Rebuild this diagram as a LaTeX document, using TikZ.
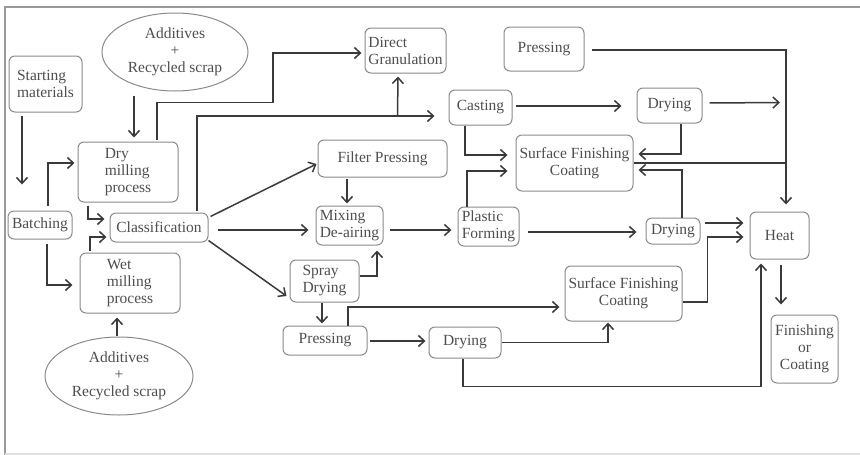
\documentclass[tikz,border=0pt]{standalone}
\usepackage{fontspec}
\setmainfont{Liberation Serif}
\usetikzlibrary{arrows.meta,shapes.geometric,calc}
\definecolor{boxgray}{HTML}{8A8A8A}
\definecolor{txtgray}{HTML}{4E4E4E}
\definecolor{linegray}{HTML}{3A3A3A}
\definecolor{framegray}{HTML}{9A9A9A}
\tikzset{
  lbl/.style={font=\fontsize{15.5}{17}\selectfont, text=txtgray, inner sep=0pt},
  stepbox/.style={lbl, draw=boxgray, line width=1pt, rounded corners=6pt},
  oval/.style={lbl, ellipse, draw=boxgray, line width=1pt},
  flow/.style={draw=linegray, line width=1.5pt, -{Straight Barb[length=6pt,width=11pt,line width=1.5pt]}},
  plain/.style={draw=linegray, line width=1.5pt},
}
\begin{document}
\begin{tikzpicture}[x=1pt,y=-1pt]
\useasboundingbox (0,0) rectangle (860,455);
% outer frame
\draw[framegray, line width=1.2pt] (5,455) -- (5,7) -- (860,7);
\draw[black!12, line width=2pt] (5,454) -- (860,454);

% process steps
\node[stepbox, align=left, minimum width=73, minimum height=56] (sm) at (45.5,84) {Starting\\materials};
\node[oval, align=center, minimum width=146, minimum height=78] (ell1) at (175,52) {Additives\\+\\Recycled scrap};
\node[stepbox, align=left, minimum width=100, minimum height=60] (dry) at (128,172) {Dry\\milling\\process};
\node[stepbox, minimum width=64, minimum height=28] (batch) at (40,225) {Batching};
\node[stepbox, minimum width=98, minimum height=29] (cls) at (159,227.5) {Classification};
\node[stepbox, align=left, minimum width=100, minimum height=60] (wet) at (130,283) {Wet\\milling\\process};
\node[oval, align=center, minimum width=148, minimum height=78] (ell2) at (119,376) {Additives\\+\\Recycled scrap};
\node[stepbox, align=left, minimum width=81, minimum height=45] (dg) at (405.5,50.5) {Direct\\Granulation};
\node[stepbox, minimum width=80, minimum height=44] (press1) at (544,49) {Pressing};
\node[stepbox, minimum width=63, minimum height=35] (cast) at (480.5,107.5) {Casting};
\node[stepbox, minimum width=65, minimum height=35] (dry1) at (669.5,105.5) {Drying};
\node[stepbox, align=center, minimum width=117, minimum height=56] (sf1) at (574.5,163) {Surface Finishing\\Coating};
\node[stepbox, minimum width=129, minimum height=37] (fp) at (382.5,158.5) {Filter Pressing};
\node[stepbox, align=left, minimum width=67, minimum height=39] (mix) at (349.5,225.5) {Mixing\\De-airing};
\node[stepbox, align=left, minimum width=61, minimum height=39] (pf) at (488.5,226.5) {Plastic\\Forming};
\node[stepbox, minimum width=54, minimum height=26] (dry2) at (673,231) {Drying};
\node[stepbox, minimum width=59, minimum height=47] (heat) at (779.5,235.5) {Heat};
\node[stepbox, align=left, minimum width=69, minimum height=42] (spray) at (324.5,281) {Spray\\Drying};
\node[stepbox, minimum width=84, minimum height=29] (press2) at (325,340.5) {Pressing};
\node[stepbox, minimum width=72, minimum height=31] (dry3) at (465,342.5) {Drying};
\node[stepbox, align=center, minimum width=117, minimum height=55] (sf2) at (623.5,293.5) {Surface Finishing\\Coating};
\node[stepbox, align=center, minimum width=67, minimum height=68] (fin) at (804.5,349) {Finishing\\or\\Coating};

% junction points on shared lines
\coordinate (jct) at ($(cast.west)+(-51,8.5)$);
\coordinate (busend) at ($(heat.north)+(6.5,-7)$);

% raw material preparation
\draw[flow] ($(sm.south)+(-23.5,3)$) -- ($(batch.north)+(-18,-26)$);
\draw[flow] ($(batch.north)+(8,-5)$) |- ($(dry.west)+(-3,-9)$);
\draw[flow] ($(batch.south)+(7,4)$) |- ($(wet.west)+(-7,2)$);
\draw[flow] ($(ell1.south)+(-41,4)$) -- ($(dry.north)+(6,-4)$);
\draw[flow] ($(ell2.north)+(-2,-1)$) -- ($(wet.south)+(-13,4)$);
\draw[flow] ($(dry.south)+(-40,3)$) |- ($(cls.west)+(-5,-8.5)$);
\draw[flow] ($(wet.north)+(-40,-2)$) |- ($(cls.west)+(-3,9.5)$);

% forming routes
\draw[flow] ($(dry.north)+(29,-2)$) -- ++(0,-37) -- ++(116,0) |- ($(dg.west)+(-3,2.5)$);
\draw[flow] ($(cls.north)+(38,-2)$) |- ($(cast.west)+(-14,8.5)$);
\draw[flow] (jct) -- ($(dg.south)+(-7.5,3)$);
\draw[flow] ($(cls.north east)+(2,4)$) -- ($(fp.west)+(-1,5.5)$);
\draw[flow] ($(cls.east)+(9,2.5)$) -- ($(mix.west)+(-7,4.5)$);
\draw[flow] ($(cls.south east)+(0,-2)$) -- ($(spray.west)+(-3,15)$);
\draw[flow] ($(fp.south)+(-35.5,1)$) -- ($(mix.north)+(-2.5,-2)$);
\draw[flow] ($(mix.east)+(6,4.5)$) -- ($(pf.west)+(-6,3.5)$);
\draw[flow] ($(spray.east)+(0,-5)$) -| ($(mix.south)+(27.5,5)$);
\draw[flow] ($(spray.south)+(-2.5,0)$) -- ($(press2.north)+(-3,-2)$);
\draw[flow] ($(press2.north)+(23,0)$) |- ($(sf2.west)+(-5,13.5)$);
\draw[flow] ($(press2.east)+(2,0.5)$) -- ($(dry3.west)+(-3,-1.5)$);
\draw[flow] (dry3.east) -| ($(sf2.south)+(-15.5,1)$);
\draw[flow] ($(dry3.south)+(-2,0)$) -- ++(0,28) -| ($(heat.south)+(-18.5,4)$);
\draw[flow] ($(sf2.east)+(0,8.5)$) -- ++(25,0) |- ($(heat.west)+(-6,1.5)$);
\draw[flow] ($(dry2.east)+(4,-8)$) -- ($(heat.west)+(-6,-12.5)$);
\draw[flow] ($(dry2.north)+(9,0)$) |- ($(sf1.east)+(5,7)$);
\draw[flow] ($(pf.east)+(8,5.5)$) -- ($(dry2.west)+(-9,1)$);
\draw[flow] ($(pf.north)+(-21.5,0)$) |- ($(sf1.west)+(-8,8)$);
\draw[flow] ($(cast.south)+(-15.5,0)$) |- ($(sf1.west)+(-8,-8)$);
\draw[flow] ($(cast.east)+(3,-1.5)$) -- ($(dry1.west)+(-15,0.5)$);
\draw[flow] ($(dry1.south)+(11.5,0)$) |- ($(sf1.east)+(5,-9)$);
\draw[flow] ($(dry1.east)+(7,-2.5)$) -- ($(heat.north)+(0.5,-109)$);
\draw[flow] ($(press1.east)+(7,1)$) -| (busend);
\draw[plain] (sf1.east) -- (sf1.east -| busend);
\draw[flow] ($(heat.south)+(1.5,5)$) -- ($(fin.north)+(-23.5,-10)$);
\end{tikzpicture}
\end{document}
